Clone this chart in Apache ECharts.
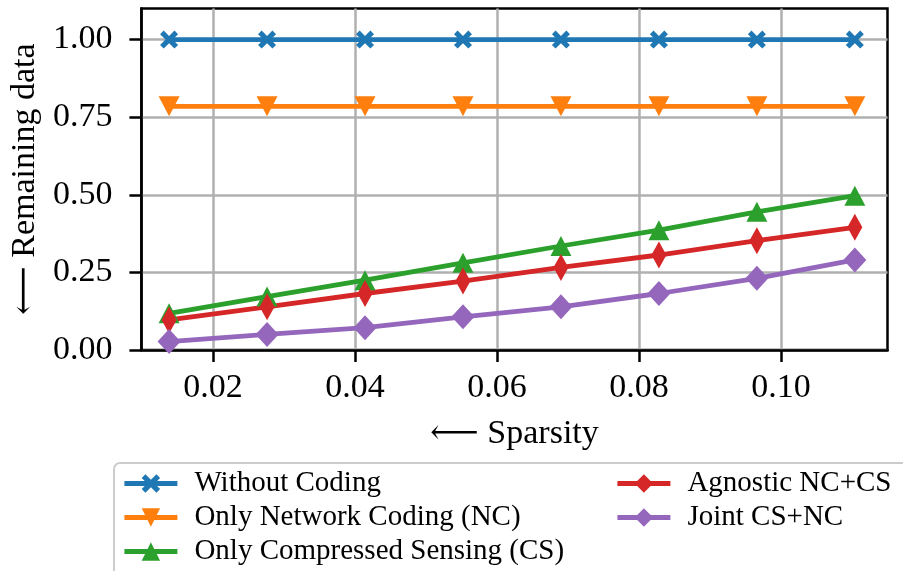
<!DOCTYPE html>
<html>
<head>
<meta charset="utf-8">
<script src="https://cdn.jsdelivr.net/npm/echarts@6/dist/echarts.min.js"></script>
<style>
  html, body { margin: 0; padding: 0; background: #fff; }
  #chart { width: 903px; height: 571px; }
</style>
</head>
<body>
<div id="chart"></div>
<script>
// Sparsity levels on the x axis
const sparsity = [0.0138, 0.0276, 0.0414, 0.0552, 0.0690, 0.0828, 0.0966, 0.1104];

// Fraction of data remaining for each scheme
const withoutCoding  = [1.0, 1.0, 1.0, 1.0, 1.0, 1.0, 1.0, 1.0];
const onlyNC         = [0.785, 0.785, 0.785, 0.785, 0.785, 0.785, 0.785, 0.785];
const onlyCS         = [0.118, 0.172, 0.225, 0.281, 0.335, 0.386, 0.445, 0.497];
const agnosticNCCS   = [0.097, 0.139, 0.182, 0.222, 0.266, 0.306, 0.352, 0.395];
const jointCSNC      = [0.027, 0.050, 0.072, 0.107, 0.139, 0.182, 0.231, 0.290];

// Tick positions
const xTicks = [0.02, 0.04, 0.06, 0.08, 0.10];
const yTicks = [0.00, 0.25, 0.50, 0.75, 1.00];

const seriesNames = [
  'Without Coding',
  'Only Network Coding (NC)',
  'Only Compressed Sensing (CS)',
  'Agnostic NC+CS',
  'Joint CS+NC'
];

const FONT = "'Liberation Serif', 'DejaVu Serif', serif";

const pairs = ys => sparsity.map((x, i) => [x, ys[i]]);

// Marker shapes
const crossPath = 'path://M0,4 L4,0 L10,6 L16,0 L20,4 L14,10 L20,16 L16,20 L10,14 L4,20 L0,16 L6,10 Z';
const triDownPath = 'path://M0,0 L20,0 L10,20 Z';
const thinDiamondPath = 'path://M6,0 L12,10 L6,20 L0,10 Z';

const LINE_W = 4.8;

function lineSeries(name, ys, color, symbol, size, keep) {
  return {
    name: name,
    type: 'line',
    data: pairs(ys),
    symbol: symbol,
    symbolSize: size,
    symbolKeepAspect: !!keep,
    showAllSymbol: true,
    animation: false,
    lineStyle: { color: color, width: LINE_W },
    itemStyle: { color: color, borderWidth: 0 },
    emphasis: { disabled: true }
  };
}

const chart = echarts.init(document.getElementById('chart'), null, { renderer: 'canvas' });

const legendText = { fontFamily: FONT, fontSize: 29, color: '#000', lineHeight: 29, padding: [0, 0, 0, 12] };

chart.setOption({
  animation: false,
  backgroundColor: '#ffffff',
  grid: {
    left: 141, right: 15.5, top: 8.5, bottom: 221,
    show: true, borderColor: '#000', borderWidth: 2.5, backgroundColor: 'transparent'
  },
  xAxis: {
    type: 'value',
    min: 0.0099,
    max: 0.115,
    name: '\u27F5 Sparsity',
    nameLocation: 'middle',
    nameGap: 67,
    nameTextStyle: { fontFamily: FONT, fontSize: 34, color: '#000' },
    axisLine: { show: true, onZero: false, lineStyle: { color: '#000', width: 2.5 } },
    axisTick: { show: true, inside: false, length: 12, customValues: xTicks, lineStyle: { color: '#000', width: 2.5 } },
    axisLabel: {
      customValues: xTicks,
      margin: 21,
      fontFamily: FONT, fontSize: 34, color: '#000',
      formatter: v => v.toFixed(2)
    },
    splitLine: { show: true, lineStyle: { color: '#b0b0b0', width: 2.5 } }
  },
  yAxis: {
    type: 'value',
    min: 0,
    max: 1.1,
    name: '\u27F5 Remaining data',
    nameLocation: 'middle',
    nameGap: 97,
    nameTextStyle: { fontFamily: FONT, fontSize: 34, color: '#000' },
    axisLine: { show: true, onZero: false, lineStyle: { color: '#000', width: 2.5 } },
    axisTick: { show: true, inside: false, length: 12, customValues: yTicks, lineStyle: { color: '#000', width: 2.5 } },
    axisLabel: {
      customValues: yTicks,
      margin: 29,
      fontFamily: FONT, fontSize: 34, color: '#000',
      formatter: v => v.toFixed(2)
    },
    splitLine: { show: true, lineStyle: { color: '#b0b0b0', width: 2.5 } }
  },
  legend: [
    {
      data: seriesNames.slice(0, 3),
      orient: 'vertical',
      left: 122, top: 469,
      itemWidth: 53, itemHeight: 23, itemGap: 5,
      padding: 0,
      lineStyle: { width: LINE_W },
      textStyle: legendText,
      selectedMode: false
    },
    {
      data: seriesNames.slice(3),
      orient: 'vertical',
      left: 615, top: 469,
      itemWidth: 53, itemHeight: 23, itemGap: 5,
      padding: 0,
      lineStyle: { width: LINE_W },
      textStyle: legendText,
      selectedMode: false
    }
  ],
  graphic: [
    {
      type: 'rect',
      z: -1,
      shape: { x: 114, y: 463, width: 820, height: 140, r: 6 },
      style: { fill: '#fff', stroke: '#cccccc', lineWidth: 2 }
    }
  ],
  series: [
    lineSeries(seriesNames[0], withoutCoding, '#1f77b4', crossPath, 18, true),
    lineSeries(seriesNames[1], onlyNC, '#ff7f0e', triDownPath, [21, 20], false),
    lineSeries(seriesNames[2], onlyCS, '#2ca02c', 'triangle', [21, 20], false),
    lineSeries(seriesNames[3], agnosticNCCS, '#d62728', thinDiamondPath, [15, 27], false),
    lineSeries(seriesNames[4], jointCSNC, '#9467bd', 'diamond', [23, 25], false)
  ]
});
</script>
</body>
</html>
